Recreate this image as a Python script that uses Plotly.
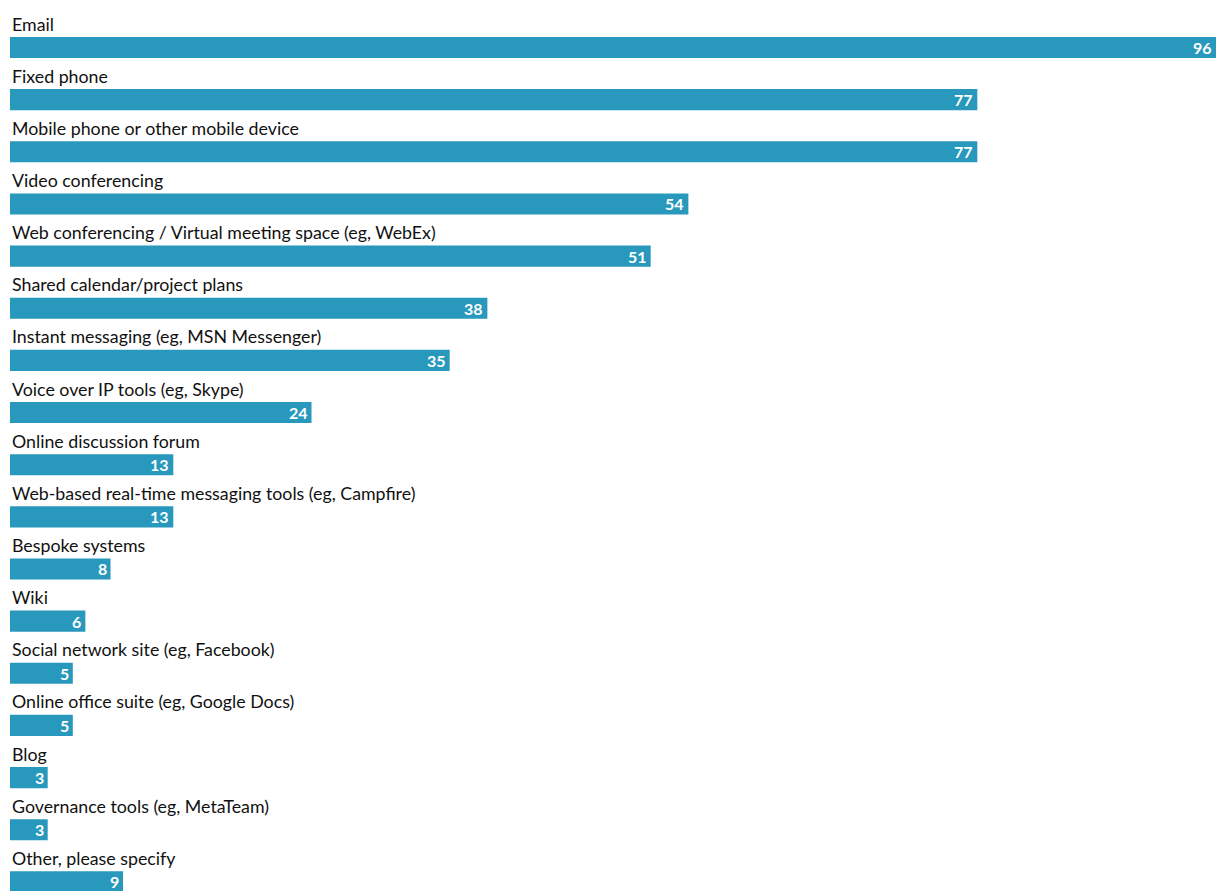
import plotly.graph_objects as go

categories = [
    "Email",
    "Fixed phone",
    "Mobile phone or other mobile device",
    "Video conferencing",
    "Web conferencing / Virtual meeting space (eg, WebEx)",
    "Shared calendar/project plans",
    "Instant messaging (eg, MSN Messenger)",
    "Voice over IP tools (eg, Skype)",
    "Online discussion forum",
    "Web-based real-time messaging tools (eg, Campfire)",
    "Bespoke systems",
    "Wiki",
    "Social network site (eg, Facebook)",
    "Online office suite (eg, Google Docs)",
    "Blog",
    "Governance tools (eg, MetaTeam)",
    "Other, please specify",
]
values = [96, 77, 77, 54, 51, 38, 35, 24, 13, 13, 8, 6, 5, 5, 3, 3, 9]

BAR_COLOR = "#2898bd"
FONT = "Lato"

fig = go.Figure(
    go.Bar(
        x=values,
        y=categories,
        orientation="h",
        width=0.405,
        marker=dict(color=BAR_COLOR, line=dict(width=0)),
        cliponaxis=False,
        hoverinfo="skip",
    )
)

# category labels sit above their bars, values inside the bar ends
for cat, val in zip(categories, values):
    fig.add_annotation(
        x=0, y=cat, xref="x", yref="y",
        text=cat, showarrow=False,
        xanchor="left", yanchor="middle", yshift=24,
        font=dict(family=FONT, size=17.8, color="#111111"),
    )
    fig.add_annotation(
        x=val, y=cat, xref="x", yref="y",
        text=f"<b>{val}</b>", showarrow=False,
        xanchor="right", yanchor="middle", xshift=-2, yshift=0,
        font=dict(family=FONT, size=16, color="white"),
    )

fig.update_layout(
    width=1230, height=891,
    margin=dict(l=10, r=14, t=0, b=0),
    paper_bgcolor="white", plot_bgcolor="white",
    showlegend=False,
    xaxis=dict(range=[0, 96], visible=False, fixedrange=True),
    yaxis=dict(type="category", range=[16.175, -0.911], visible=False, fixedrange=True),
)

fig.write_html("out.html")
